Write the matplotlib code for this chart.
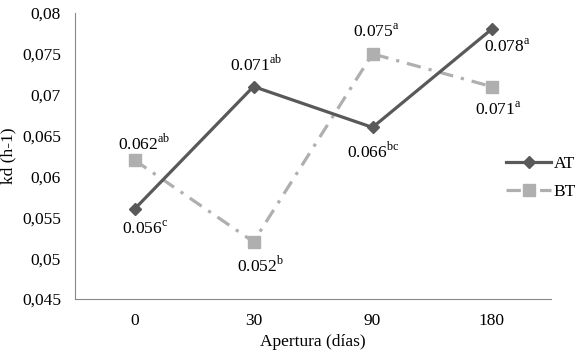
import matplotlib
matplotlib.use("Agg")
import matplotlib.pyplot as plt
from matplotlib.ticker import FuncFormatter

plt.rcParams['font.family'] = ['Liberation Serif', 'DejaVu Serif']
plt.rcParams['mathtext.fontset'] = 'custom'
plt.rcParams['mathtext.rm'] = 'Liberation Serif'

categorias = ['0', '30', '90', '180']
at = [0.056, 0.071, 0.066, 0.078]
bt = [0.062, 0.052, 0.075, 0.071]
at_letras = ['c', 'ab', 'bc', 'a']
bt_letras = ['ab', 'b', 'a', 'a']
yticks = [0.045, 0.05, 0.055, 0.06, 0.065, 0.07, 0.075, 0.08]

fs = 12.5
fig = plt.figure(figsize=(5.81, 3.54), dpi=100)
ax = fig.add_axes([75/581, 55/354, 476/581, 286/354])
x = range(len(categorias))

ax.plot(x, at, color='#595959', lw=2.3, marker='D', ms=6.5, label='AT', zorder=3)
ax.plot(x, bt, color='#AFAFAF', lw=2.3, ls=(0, (4.5, 2.5, 1, 2.5)), marker='s', ms=8.5,
        label='BT', zorder=2)

def etiqueta(v, letras):
    return ('%.3f' % v) + r'$^{\mathrm{' + letras + '}}$'

# (dx, dy) in pixels, y up
at_off = [(11, -20), (3, 22), (1, -24), (16, -18)]
bt_off = [(10, 17), (7, -23), (4, 22), (7, -23)]
for i in x:
    ax.annotate(etiqueta(at[i], at_letras[i]), (i, at[i]), xytext=at_off[i], textcoords='offset pixels',
                ha='center', va='center', fontsize=fs)
    ax.annotate(etiqueta(bt[i], bt_letras[i]), (i, bt[i]), xytext=bt_off[i], textcoords='offset pixels',
                ha='center', va='center', fontsize=fs)

ax.set_xlim(-0.5, 3.5)
ax.set_ylim(0.045, 0.08)
ax.set_xticks(list(x))
ax.set_xticklabels(categorias)
ax.set_yticks(yticks)
ax.yaxis.set_major_formatter(FuncFormatter(lambda v, p: ('%g' % round(v, 3)).replace('.', ',')))
ax.tick_params(axis='y', length=0, labelsize=fs, pad=10)
ax.tick_params(axis='x', length=0, labelsize=fs, pad=10)
for s in ['top', 'right']:
    ax.spines[s].set_visible(False)
for s in ['left', 'bottom']:
    ax.spines[s].set_color('#888888')
ax.set_xlabel('Apertura (días)', fontsize=fs, labelpad=4)
ax.set_ylabel('kd (h-1)', fontsize=fs, labelpad=4)

fig.legend(*ax.get_legend_handles_labels(), loc='center left', bbox_to_anchor=(506/581, 1 - 178/354),
           frameon=False, fontsize=fs, handlelength=2.6, handletextpad=0.15, labelspacing=0.65,
           borderpad=0, borderaxespad=0)

fig.savefig('out.png', dpi=100)
